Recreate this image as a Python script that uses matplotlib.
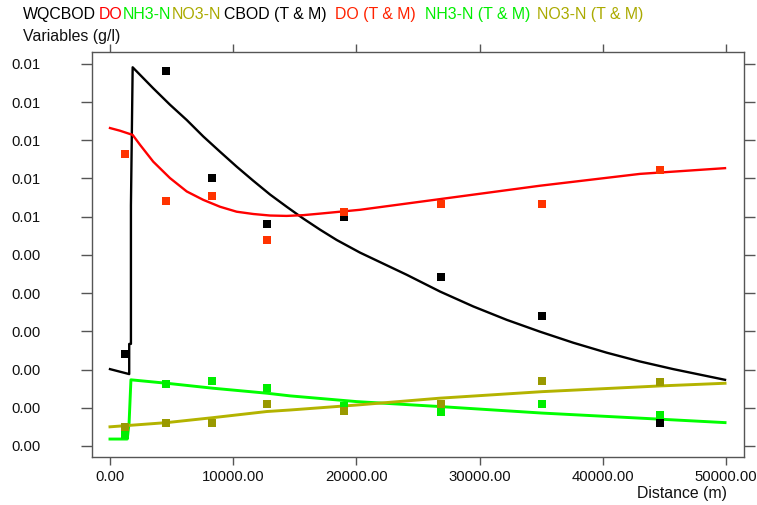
import matplotlib
matplotlib.use('Agg')
import matplotlib.pyplot as plt
from matplotlib.ticker import FixedLocator, FuncFormatter

plt.rcParams['font.family'] = ['Liberation Sans', 'DejaVu Sans']

# 觀測點 (距離, m)
obs_x = [1220, 4550, 8280, 12740, 19020, 26840, 35090, 44670]
cbod_obs = [0.0024, 0.00982, 0.00702, 0.0058, 0.006, 0.00442, 0.0034, 0.00059]
do_obs = [0.00763, 0.00641, 0.00653, 0.0054, 0.00612, 0.00634, 0.00633, 0.00723]
nh3_obs = [0.00029, 0.00161, 0.0017, 0.00151, 0.00105, 0.0009, 0.00109, 0.00081]
no3_obs = [0.00049, 0.00061, 0.00061, 0.0011, 0.00092, 0.00109, 0.0017, 0.00168]

# 模擬曲線
cbod_x = [0, 1560, 1560, 1700, 1700, 1840, 3510, 4870, 6230, 7570, 8930, 10280, 11630, 12990, 14340,
          15690, 17050, 18400, 20290, 24080, 26790, 29490, 32200, 34900, 37610, 40320, 43020, 45720, 49920]
cbod_y = [0.00201, 0.00188, 0.00267, 0.00267, 0.00629, 0.00991, 0.00936, 0.00893, 0.00853, 0.0081,
          0.0077, 0.00731, 0.00694, 0.00658, 0.00626, 0.00595, 0.00566, 0.00539, 0.00506, 0.00448,
          0.00404, 0.00365, 0.0033, 0.00299, 0.0027, 0.00244, 0.00221, 0.00201, 0.00173]
do_x = [0, 810, 1840, 2440, 3510, 4870, 6230, 7570, 8930, 10280, 11630, 12990, 14340, 15690, 17050,
        18670, 20290, 26790, 34900, 43020, 49920]
do_y = [0.00832, 0.00825, 0.00814, 0.00788, 0.00744, 0.00701, 0.00666, 0.00644, 0.00626, 0.00613,
        0.00607, 0.00603, 0.00602, 0.00604, 0.00608, 0.00613, 0.00618, 0.00646, 0.00681, 0.00712, 0.00727]
nh3_x = [0, 1400, 1550, 1700, 4600, 8360, 12720, 14610, 20020, 26790, 35060, 44640, 49920]
nh3_y = [0.00018, 0.00018, 0.0006, 0.00173, 0.00164, 0.00151, 0.00138, 0.00131, 0.00116, 0.00103, 0.00086,
         0.0007, 0.00061]
no3_x = [0, 4600, 8360, 12720, 14610, 20020, 26790, 35060, 44640, 49920]
no3_y = [0.0005, 0.00061, 0.00074, 0.0009, 0.00094, 0.00107, 0.00125, 0.00142, 0.00157, 0.00164]

x_ticks = [0, 10000, 20000, 30000, 40000, 50000]
y_ticks = [0.000, 0.001, 0.002, 0.003, 0.004, 0.005, 0.006, 0.007, 0.008, 0.009, 0.010]
y_ticklabels = ['0.00', '0.00', '0.00', '0.00', '0.00', '0.00', '0.01', '0.01', '0.01', '0.01', '0.01']

header = [('WQCBOD', '#000000', 23), ('DO', '#ff0000', 99), ('NH3-N', '#00ee00', 123),
          ('NO3-N', '#aaaa00', 172), ('CBOD (T & M)', '#000000', 224), ('DO (T & M)', '#ff2200', 335),
          ('NH3-N (T & M)', '#00ee00', 425), ('NO3-N (T & M)', '#aaaa00', 537)]

W, H = 757, 505
fig = plt.figure(figsize=(W / 100, H / 100), dpi=100)
ax = fig.add_axes([92 / W, (H - 457) / H, (744 - 92) / W, (457 - 52) / H])

ax.plot(cbod_x, cbod_y, color='#000000', lw=1.7)
ax.plot(do_x, do_y, color='#ff0000', lw=1.7)
ax.plot(nh3_x, nh3_y, color='#00ff00', lw=2.1)
ax.plot(no3_x, no3_y, color='#b3b300', lw=2.1)

ms = 6.2
ax.plot(obs_x, nh3_obs, 's', color='#00ee00', ms=ms, mew=0)
ax.plot(obs_x, no3_obs, 's', color='#999900', ms=ms, mew=0)
ax.plot(obs_x, cbod_obs, 's', color='#000000', ms=ms, mew=0)
ax.plot(obs_x, do_obs, 's', color='#ff3300', ms=ms, mew=0)

ax.set_xlim(-1460, 51460)
ax.set_ylim(-0.00029, 0.01031)
ax.xaxis.set_major_locator(FixedLocator(x_ticks))
ax.xaxis.set_major_formatter(FuncFormatter(lambda v, p: f'{v:.2f}'))
ax.set_yticks(y_ticks)
ax.set_yticklabels(y_ticklabels)

for s in ax.spines.values():
    s.set_color('#555555')
    s.set_linewidth(1.0)
ax.tick_params(axis='x', which='both', direction='out', length=5.8, width=1, color='#555555',
               top=True, labelsize=10.7, pad=3.5, labelcolor='#111111')
ax.tick_params(axis='y', which='both', direction='out', length=8, width=1, color='#555555',
               right=True, labelsize=10.7, pad=29, labelcolor='#111111')

for txt, c, px in header:
    fig.text(px / W, (H - 19) / H, txt, color=c, fontsize=11.4, ha='left', va='baseline')
fig.text(23 / W, (H - 41) / H, 'Variables (g/l)', color='#111111', fontsize=11.4, ha='left', va='baseline')
fig.text(727 / W, (H - 498) / H, 'Distance (m)', color='#111111', fontsize=11.4, ha='right', va='baseline')

plt.savefig('out.png', dpi=100)
plt.close()
